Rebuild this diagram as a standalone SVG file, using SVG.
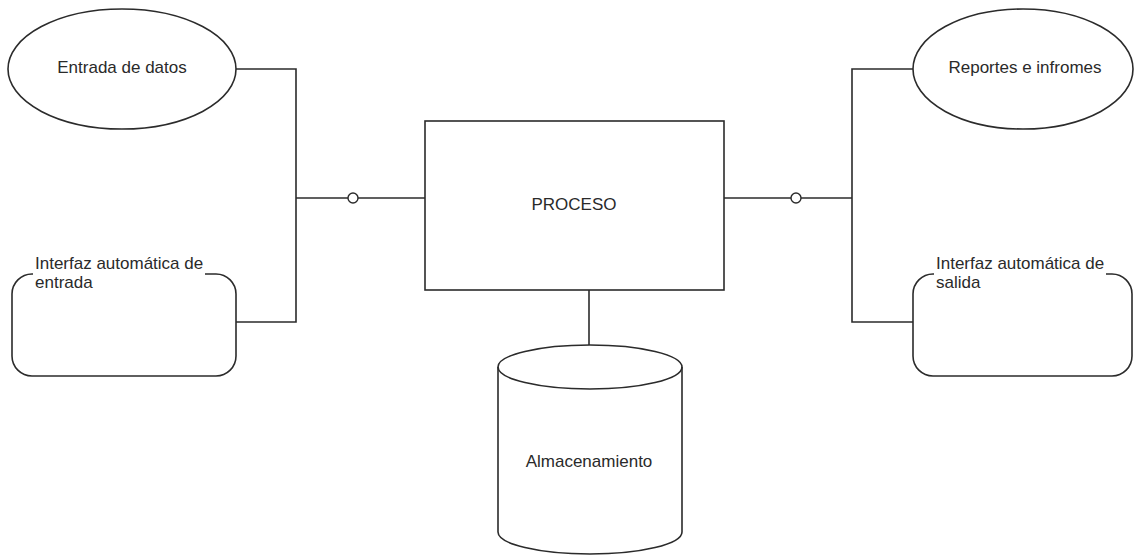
<svg xmlns="http://www.w3.org/2000/svg" width="1134" height="555" viewBox="0 0 1134 555">
  <style>
    .shape { fill: #ffffff; stroke: #2b2b2b; stroke-width: 1.6; }
    .wire { fill: none; stroke: #2b2b2b; stroke-width: 1.6; }
    .joint { fill: #ffffff; stroke: #2b2b2b; stroke-width: 1.4; }
    .lbl { font-family: "Liberation Sans", Arial, sans-serif; font-size: 17px; fill: #2a2a2a; }
    .mid { text-anchor: middle; }
    .mask { fill: #ffffff; stroke: none; }
  </style>
  <rect width="1134" height="555" fill="#ffffff"/>

  <!-- connectors -->
  <g id="connectors">
    <!-- input side bus -->
    <polyline class="wire" points="236,69 296,69 296,322 236,322"/>
    <line class="wire" x1="296" y1="198" x2="425" y2="198"/>
    <circle class="joint" cx="353" cy="198" r="5"/>
    <!-- output side bus -->
    <polyline class="wire" points="913,69 852,69 852,322 913,322"/>
    <line class="wire" x1="724" y1="198" x2="852" y2="198"/>
    <circle class="joint" cx="796" cy="198" r="5"/>
    <!-- process to storage -->
    <line class="wire" x1="589" y1="290" x2="589" y2="345"/>
  </g>

  <g id="entrada-datos">
    <ellipse class="shape" cx="122" cy="69" rx="114" ry="60"/>
    <text class="lbl mid" x="122" y="73">Entrada de datos</text>
  </g>

  <g id="interfaz-entrada">
    <rect class="shape" x="12" y="274" width="224" height="102" rx="20" ry="20"/>
    <rect class="mask" x="33" y="265" width="172" height="14"/>
    <text class="lbl" x="35" y="269">Interfaz automática de</text>
    <text class="lbl" x="35" y="288">entrada</text>
  </g>

  <g id="proceso">
    <rect class="shape" x="425" y="121" width="299" height="169"/>
    <text class="lbl mid" x="574" y="210">PROCESO</text>
  </g>

  <g id="almacenamiento">
    <path class="shape" d="M498,367 L498,532 A92,22 0 0 0 682,532 L682,367 A92,22 0 0 0 498,367 Z"/>
    <path class="wire" d="M498,367 A92,22 0 0 0 682,367"/>
    <text class="lbl mid" x="589" y="467">Almacenamiento</text>
  </g>

  <g id="reportes">
    <ellipse class="shape" cx="1023" cy="69" rx="110" ry="60"/>
    <text class="lbl mid" x="1025" y="73">Reportes e infromes</text>
  </g>

  <g id="interfaz-salida">
    <rect class="shape" x="913" y="274" width="219" height="102" rx="20" ry="20"/>
    <rect class="mask" x="934" y="265" width="172" height="14"/>
    <text class="lbl" x="936" y="269">Interfaz automática de</text>
    <text class="lbl" x="936" y="288">salida</text>
  </g>
</svg>
